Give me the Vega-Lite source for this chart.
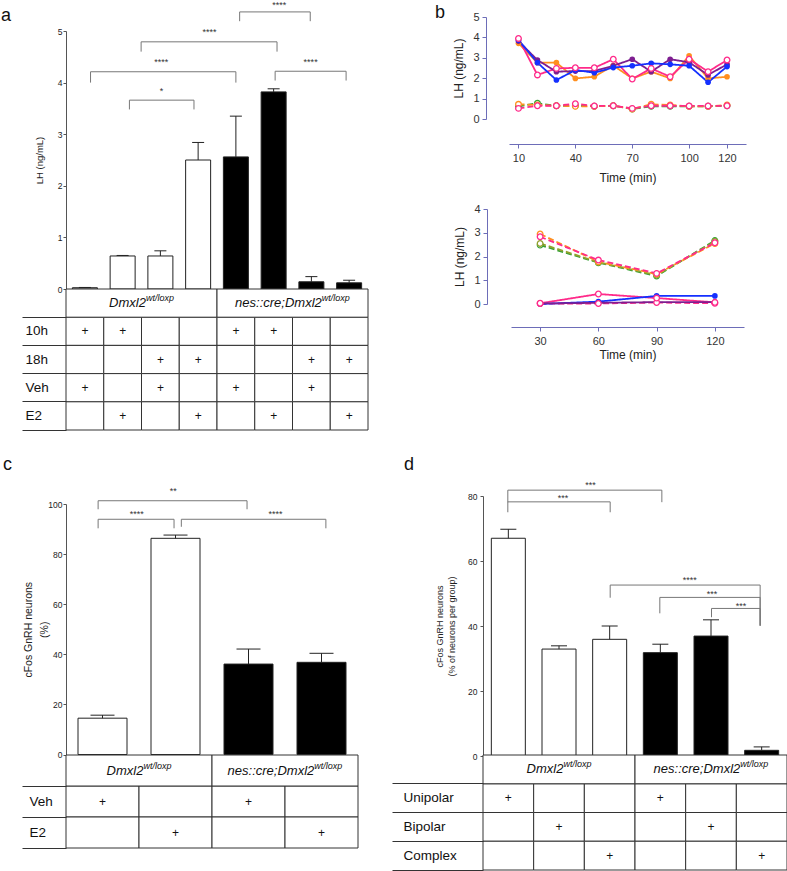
{
"$schema": "https://vega.github.io/schema/vega-lite/v6.json",
"background": "white",
"padding": {"left": 1, "top": 0, "right": 0, "bottom": 0},
"config": {
  "font": "Liberation Sans",
  "view": {"stroke": null},
  "axis": {"grid": false, "titleFontWeight": "normal", "domainColor": "#555", "tickColor": "#555", "labelColor": "#222", "titleColor": "#222", "labelOverlap": false}
},
"datasets": {
  "aBars": [
    {"pos": 1, "g": "wt", "v": 0.025, "e": 0.03},
    {"pos": 2, "g": "wt", "v": 0.64, "e": 0.65},
    {"pos": 3, "g": "wt", "v": 0.64, "e": 0.74},
    {"pos": 4, "g": "wt", "v": 2.5, "e": 2.84},
    {"pos": 5, "g": "cre", "v": 2.56, "e": 3.35},
    {"pos": 6, "g": "cre", "v": 3.82, "e": 3.88},
    {"pos": 7, "g": "cre", "v": 0.14, "e": 0.24},
    {"pos": 8, "g": "cre", "v": 0.12, "e": 0.17}
  ],
  "aBr": [
    {"xa": 2.18, "xb": 3.89, "y": 3.66, "b1": 3.48, "b2": 3.48, "xt": 3.03, "yt": 3.87, "lab": "*"},
    {"xa": 1.15, "xb": 5.0, "y": 4.21, "b1": 4.0, "b2": 4.0, "xt": 3.02, "yt": 4.44, "lab": "****"},
    {"xa": 2.49, "xb": 6.09, "y": 4.79, "b1": 4.6, "b2": 4.6, "xt": 4.3, "yt": 5.01, "lab": "****"},
    {"xa": 6.04, "xb": 7.92, "y": 4.22, "b1": 4.04, "b2": 4.04, "xt": 6.98, "yt": 4.44, "lab": "****"},
    {"xa": 5.1, "xb": 6.97, "y": 5.37, "b1": 5.19, "b2": 5.19, "xt": 6.15, "yt": 5.55, "lab": "****"}
  ],
  "aTab": [
    {"row": "10h", "col": 1, "v": "+"}, {"row": "10h", "col": 2, "v": "+"}, {"row": "10h", "col": 3, "v": ""}, {"row": "10h", "col": 4, "v": ""},
    {"row": "10h", "col": 5, "v": "+"}, {"row": "10h", "col": 6, "v": "+"}, {"row": "10h", "col": 7, "v": ""}, {"row": "10h", "col": 8, "v": ""},
    {"row": "18h", "col": 1, "v": ""}, {"row": "18h", "col": 2, "v": ""}, {"row": "18h", "col": 3, "v": "+"}, {"row": "18h", "col": 4, "v": "+"},
    {"row": "18h", "col": 5, "v": ""}, {"row": "18h", "col": 6, "v": ""}, {"row": "18h", "col": 7, "v": "+"}, {"row": "18h", "col": 8, "v": "+"},
    {"row": "Veh", "col": 1, "v": "+"}, {"row": "Veh", "col": 2, "v": ""}, {"row": "Veh", "col": 3, "v": "+"}, {"row": "Veh", "col": 4, "v": ""},
    {"row": "Veh", "col": 5, "v": "+"}, {"row": "Veh", "col": 6, "v": ""}, {"row": "Veh", "col": 7, "v": "+"}, {"row": "Veh", "col": 8, "v": ""},
    {"row": "E2", "col": 1, "v": ""}, {"row": "E2", "col": 2, "v": "+"}, {"row": "E2", "col": 3, "v": ""}, {"row": "E2", "col": 4, "v": "+"},
    {"row": "E2", "col": 5, "v": ""}, {"row": "E2", "col": 6, "v": "+"}, {"row": "E2", "col": 7, "v": ""}, {"row": "E2", "col": 8, "v": "+"}
  ],
  "gen": [
    {"geno": "wt", "row": "G", "main": "Dmxl2", "sup": "wt/loxp"},
    {"geno": "cre", "row": "G", "main": "nes::cre;Dmxl2", "sup": "wt/loxp"}
  ],
  "cBars": [
    {"pos": 1, "g": "wt", "v": 14.5, "e": 15.7},
    {"pos": 2, "g": "wt", "v": 86.3, "e": 87.6},
    {"pos": 3, "g": "cre", "v": 36.1, "e": 42.1},
    {"pos": 4, "g": "cre", "v": 36.8, "e": 40.4}
  ],
  "cBr": [
    {"xa": 0.94, "xb": 2.98, "y": 101.3, "b1": 97.9, "b2": 97.9, "xt": 1.97, "yt": 105.9, "lab": "**"},
    {"xa": 0.94, "xb": 1.98, "y": 93.9, "b1": 90.3, "b2": 90.3, "xt": 1.47, "yt": 96.8, "lab": "****"},
    {"xa": 2.08, "xb": 4.06, "y": 93.9, "b1": 90.9, "b2": 90.3, "xt": 3.37, "yt": 96.8, "lab": "****"}
  ],
  "cTab": [
    {"row": "Veh", "col": 1, "v": "+"}, {"row": "Veh", "col": 2, "v": ""}, {"row": "Veh", "col": 3, "v": "+"}, {"row": "Veh", "col": 4, "v": ""},
    {"row": "E2", "col": 1, "v": ""}, {"row": "E2", "col": 2, "v": "+"}, {"row": "E2", "col": 3, "v": ""}, {"row": "E2", "col": 4, "v": "+"}
  ],
  "dBars": [
    {"pos": 1, "g": "wt", "v": 67.0, "e": 69.8},
    {"pos": 2, "g": "wt", "v": 32.9, "e": 33.9},
    {"pos": 3, "g": "wt", "v": 35.9, "e": 40.0},
    {"pos": 4, "g": "cre", "v": 31.8, "e": 34.4},
    {"pos": 5, "g": "cre", "v": 36.9, "e": 41.9},
    {"pos": 6, "g": "cre", "v": 1.75, "e": 2.8}
  ],
  "dBr": [
    {"xa": 0.99, "xb": 4.03, "y": 81.8, "b1": 78.1, "b2": 78.1, "xt": 2.62, "yt": 84.0, "lab": "***"},
    {"xa": 0.99, "xb": 3.01, "y": 78.2, "b1": 75.0, "b2": 75.0, "xt": 2.08, "yt": 80.1, "lab": "***"},
    {"xa": 3.01, "xb": 5.97, "y": 52.6, "b1": 48.7, "b2": 40.1, "xt": 4.58, "yt": 54.9, "lab": "****"},
    {"xa": 3.99, "xb": 5.97, "y": 48.8, "b1": 43.9, "b2": 40.1, "xt": 5.02, "yt": 50.4, "lab": "***"},
    {"xa": 5.01, "xb": 5.97, "y": 45.4, "b1": 42.7, "b2": 40.1, "xt": 5.59, "yt": 46.8, "lab": "***"}
  ],
  "dTab": [
    {"row": "Unipolar", "col": 1, "v": "+"}, {"row": "Unipolar", "col": 2, "v": ""}, {"row": "Unipolar", "col": 3, "v": ""},
    {"row": "Unipolar", "col": 4, "v": "+"}, {"row": "Unipolar", "col": 5, "v": ""}, {"row": "Unipolar", "col": 6, "v": ""},
    {"row": "Bipolar", "col": 1, "v": ""}, {"row": "Bipolar", "col": 2, "v": "+"}, {"row": "Bipolar", "col": 3, "v": ""},
    {"row": "Bipolar", "col": 4, "v": ""}, {"row": "Bipolar", "col": 5, "v": "+"}, {"row": "Bipolar", "col": 6, "v": ""},
    {"row": "Complex", "col": 1, "v": ""}, {"row": "Complex", "col": 2, "v": ""}, {"row": "Complex", "col": 3, "v": "+"},
    {"row": "Complex", "col": 4, "v": ""}, {"row": "Complex", "col": 5, "v": ""}, {"row": "Complex", "col": 6, "v": "+"}
  ],
  "b1": [
    {"id": "o", "c": "orange", "d": "solid", "f": "filled", "t": 10, "v": 3.71}, {"id": "o", "c": "orange", "d": "solid", "f": "filled", "t": 20, "v": 2.76},
    {"id": "o", "c": "orange", "d": "solid", "f": "filled", "t": 30, "v": 2.76}, {"id": "o", "c": "orange", "d": "solid", "f": "filled", "t": 40, "v": 1.99},
    {"id": "o", "c": "orange", "d": "solid", "f": "filled", "t": 50, "v": 2.07}, {"id": "o", "c": "orange", "d": "solid", "f": "filled", "t": 60, "v": 2.62},
    {"id": "o", "c": "orange", "d": "solid", "f": "filled", "t": 70, "v": 1.99}, {"id": "o", "c": "orange", "d": "solid", "f": "filled", "t": 80, "v": 2.32},
    {"id": "o", "c": "orange", "d": "solid", "f": "filled", "t": 90, "v": 1.99}, {"id": "o", "c": "orange", "d": "solid", "f": "filled", "t": 100, "v": 3.1},
    {"id": "o", "c": "orange", "d": "solid", "f": "filled", "t": 110, "v": 1.99}, {"id": "o", "c": "orange", "d": "solid", "f": "filled", "t": 120, "v": 2.07},
    {"id": "k", "c": "pink", "d": "solid", "f": "open", "t": 10, "v": 3.95}, {"id": "k", "c": "pink", "d": "solid", "f": "open", "t": 20, "v": 2.16},
    {"id": "k", "c": "pink", "d": "solid", "f": "open", "t": 30, "v": 2.48}, {"id": "k", "c": "pink", "d": "solid", "f": "open", "t": 40, "v": 2.51},
    {"id": "k", "c": "pink", "d": "solid", "f": "open", "t": 50, "v": 2.51}, {"id": "k", "c": "pink", "d": "solid", "f": "open", "t": 60, "v": 2.93},
    {"id": "k", "c": "pink", "d": "solid", "f": "open", "t": 70, "v": 1.96}, {"id": "k", "c": "pink", "d": "solid", "f": "open", "t": 80, "v": 2.48},
    {"id": "k", "c": "pink", "d": "solid", "f": "open", "t": 90, "v": 2.07}, {"id": "k", "c": "pink", "d": "solid", "f": "open", "t": 100, "v": 2.93},
    {"id": "k", "c": "pink", "d": "solid", "f": "open", "t": 110, "v": 2.32}, {"id": "k", "c": "pink", "d": "solid", "f": "open", "t": 120, "v": 2.89},
    {"id": "p", "c": "purple", "d": "solid", "f": "filled", "t": 10, "v": 3.82}, {"id": "p", "c": "purple", "d": "solid", "f": "filled", "t": 20, "v": 2.89},
    {"id": "p", "c": "purple", "d": "solid", "f": "filled", "t": 30, "v": 2.32}, {"id": "p", "c": "purple", "d": "solid", "f": "filled", "t": 40, "v": 2.35},
    {"id": "p", "c": "purple", "d": "solid", "f": "filled", "t": 50, "v": 2.35}, {"id": "p", "c": "purple", "d": "solid", "f": "filled", "t": 60, "v": 2.61},
    {"id": "p", "c": "purple", "d": "solid", "f": "filled", "t": 70, "v": 2.93}, {"id": "p", "c": "purple", "d": "solid", "f": "filled", "t": 80, "v": 2.32},
    {"id": "p", "c": "purple", "d": "solid", "f": "filled", "t": 90, "v": 2.93}, {"id": "p", "c": "purple", "d": "solid", "f": "filled", "t": 100, "v": 2.78},
    {"id": "p", "c": "purple", "d": "solid", "f": "filled", "t": 110, "v": 2.16}, {"id": "p", "c": "purple", "d": "solid", "f": "filled", "t": 120, "v": 2.68},
    {"id": "b", "c": "blue", "d": "solid", "f": "filled", "t": 10, "v": 3.87}, {"id": "b", "c": "blue", "d": "solid", "f": "filled", "t": 20, "v": 2.76},
    {"id": "b", "c": "blue", "d": "solid", "f": "filled", "t": 30, "v": 1.91}, {"id": "b", "c": "blue", "d": "solid", "f": "filled", "t": 40, "v": 2.4},
    {"id": "b", "c": "blue", "d": "solid", "f": "filled", "t": 50, "v": 2.27}, {"id": "b", "c": "blue", "d": "solid", "f": "filled", "t": 60, "v": 2.52},
    {"id": "b", "c": "blue", "d": "solid", "f": "filled", "t": 70, "v": 2.61}, {"id": "b", "c": "blue", "d": "solid", "f": "filled", "t": 80, "v": 2.73},
    {"id": "b", "c": "blue", "d": "solid", "f": "filled", "t": 90, "v": 2.68}, {"id": "b", "c": "blue", "d": "solid", "f": "filled", "t": 100, "v": 2.61},
    {"id": "b", "c": "blue", "d": "solid", "f": "filled", "t": 110, "v": 1.8}, {"id": "b", "c": "blue", "d": "solid", "f": "filled", "t": 120, "v": 2.57},
    {"id": "gd", "c": "green", "d": "dashed", "f": "open", "t": 10, "v": 0.62}, {"id": "gd", "c": "green", "d": "dashed", "f": "open", "t": 20, "v": 0.77},
    {"id": "gd", "c": "green", "d": "dashed", "f": "open", "t": 30, "v": 0.65}, {"id": "gd", "c": "green", "d": "dashed", "f": "open", "t": 40, "v": 0.65},
    {"id": "gd", "c": "green", "d": "dashed", "f": "open", "t": 50, "v": 0.62}, {"id": "gd", "c": "green", "d": "dashed", "f": "open", "t": 60, "v": 0.65},
    {"id": "gd", "c": "green", "d": "dashed", "f": "open", "t": 70, "v": 0.49}, {"id": "gd", "c": "green", "d": "dashed", "f": "open", "t": 80, "v": 0.62},
    {"id": "gd", "c": "green", "d": "dashed", "f": "open", "t": 90, "v": 0.62}, {"id": "gd", "c": "green", "d": "dashed", "f": "open", "t": 100, "v": 0.62},
    {"id": "gd", "c": "green", "d": "dashed", "f": "open", "t": 110, "v": 0.62}, {"id": "gd", "c": "green", "d": "dashed", "f": "open", "t": 120, "v": 0.65},
    {"id": "od", "c": "orange", "d": "dashed", "f": "open", "t": 10, "v": 0.72}, {"id": "od", "c": "orange", "d": "dashed", "f": "open", "t": 20, "v": 0.69},
    {"id": "od", "c": "orange", "d": "dashed", "f": "open", "t": 30, "v": 0.65}, {"id": "od", "c": "orange", "d": "dashed", "f": "open", "t": 40, "v": 0.62},
    {"id": "od", "c": "orange", "d": "dashed", "f": "open", "t": 50, "v": 0.62}, {"id": "od", "c": "orange", "d": "dashed", "f": "open", "t": 60, "v": 0.65},
    {"id": "od", "c": "orange", "d": "dashed", "f": "open", "t": 70, "v": 0.49}, {"id": "od", "c": "orange", "d": "dashed", "f": "open", "t": 80, "v": 0.72},
    {"id": "od", "c": "orange", "d": "dashed", "f": "open", "t": 90, "v": 0.69}, {"id": "od", "c": "orange", "d": "dashed", "f": "open", "t": 100, "v": 0.62},
    {"id": "od", "c": "orange", "d": "dashed", "f": "open", "t": 110, "v": 0.62}, {"id": "od", "c": "orange", "d": "dashed", "f": "open", "t": 120, "v": 0.69},
    {"id": "kd", "c": "pink", "d": "dashed", "f": "open", "t": 10, "v": 0.52}, {"id": "kd", "c": "pink", "d": "dashed", "f": "open", "t": 20, "v": 0.65},
    {"id": "kd", "c": "pink", "d": "dashed", "f": "open", "t": 30, "v": 0.65}, {"id": "kd", "c": "pink", "d": "dashed", "f": "open", "t": 40, "v": 0.75},
    {"id": "kd", "c": "pink", "d": "dashed", "f": "open", "t": 50, "v": 0.64}, {"id": "kd", "c": "pink", "d": "dashed", "f": "open", "t": 60, "v": 0.65},
    {"id": "kd", "c": "pink", "d": "dashed", "f": "open", "t": 70, "v": 0.52}, {"id": "kd", "c": "pink", "d": "dashed", "f": "open", "t": 80, "v": 0.65},
    {"id": "kd", "c": "pink", "d": "dashed", "f": "open", "t": 90, "v": 0.65}, {"id": "kd", "c": "pink", "d": "dashed", "f": "open", "t": 100, "v": 0.64},
    {"id": "kd", "c": "pink", "d": "dashed", "f": "open", "t": 110, "v": 0.64}, {"id": "kd", "c": "pink", "d": "dashed", "f": "open", "t": 120, "v": 0.65}
  ],
  "b2": [
    {"id": "gd", "c": "green", "d": "dashed", "f": "open", "t": 30, "v": 2.48}, {"id": "gd", "c": "green", "d": "dashed", "f": "open", "t": 60, "v": 1.74},
    {"id": "gd", "c": "green", "d": "dashed", "f": "open", "t": 90, "v": 1.18}, {"id": "gd", "c": "green", "d": "dashed", "f": "open", "t": 120, "v": 2.67},
    {"id": "ld", "c": "olive", "d": "dashed", "f": "open", "t": 30, "v": 2.55}, {"id": "ld", "c": "olive", "d": "dashed", "f": "open", "t": 60, "v": 1.76},
    {"id": "ld", "c": "olive", "d": "dashed", "f": "open", "t": 90, "v": 1.22}, {"id": "ld", "c": "olive", "d": "dashed", "f": "open", "t": 120, "v": 2.63},
    {"id": "od", "c": "orange", "d": "dashed", "f": "open", "t": 30, "v": 2.95}, {"id": "od", "c": "orange", "d": "dashed", "f": "open", "t": 60, "v": 1.78},
    {"id": "od", "c": "orange", "d": "dashed", "f": "open", "t": 90, "v": 1.26}, {"id": "od", "c": "orange", "d": "dashed", "f": "open", "t": 120, "v": 2.55},
    {"id": "kd", "c": "pink", "d": "dashed", "f": "open", "t": 30, "v": 2.83}, {"id": "kd", "c": "pink", "d": "dashed", "f": "open", "t": 60, "v": 1.85},
    {"id": "kd", "c": "pink", "d": "dashed", "f": "open", "t": 90, "v": 1.29}, {"id": "kd", "c": "pink", "d": "dashed", "f": "open", "t": 120, "v": 2.58},
    {"id": "kd2", "c": "pink", "d": "dashed", "f": "open", "t": 30, "v": 0.02}, {"id": "kd2", "c": "pink", "d": "dashed", "f": "open", "t": 60, "v": 0.02},
    {"id": "kd2", "c": "pink", "d": "dashed", "f": "open", "t": 90, "v": 0.06}, {"id": "kd2", "c": "pink", "d": "dashed", "f": "open", "t": 120, "v": 0.03},
    {"id": "k", "c": "pink", "d": "solid", "f": "open", "t": 30, "v": 0.03}, {"id": "k", "c": "pink", "d": "solid", "f": "open", "t": 60, "v": 0.42},
    {"id": "k", "c": "pink", "d": "solid", "f": "open", "t": 90, "v": 0.25}, {"id": "k", "c": "pink", "d": "solid", "f": "open", "t": 120, "v": 0.07},
    {"id": "b", "c": "blue", "d": "solid", "f": "filled", "t": 30, "v": 0.0}, {"id": "b", "c": "blue", "d": "solid", "f": "filled", "t": 60, "v": 0.1},
    {"id": "b", "c": "blue", "d": "solid", "f": "filled", "t": 90, "v": 0.34}, {"id": "b", "c": "blue", "d": "solid", "f": "filled", "t": 120, "v": 0.34},
    {"id": "p", "c": "purple", "d": "solid", "f": "filled", "t": 30, "v": 0.02}, {"id": "p", "c": "purple", "d": "solid", "f": "filled", "t": 60, "v": 0.05},
    {"id": "p", "c": "purple", "d": "solid", "f": "filled", "t": 90, "v": 0.08}, {"id": "p", "c": "purple", "d": "solid", "f": "filled", "t": 120, "v": 0.08}
  ]
},
"columns": 2,
"bounds": "flush",
"align": "each",
"spacing": {"row": 0, "column": 115},
"concat": [
  {
    "width": 302, "height": 289,
    "layer": [
      {"data": {"name": "aBars"}, "mark": {"type": "bar", "orient": "vertical", "width": 25, "stroke": "#222", "strokeWidth": 1},
       "encoding": {
         "x": {"field": "pos", "type": "quantitative", "scale": {"domain": [0.5, 8.5], "nice": false, "zero": false, "padding": 0}, "axis": null},
         "y": {"field": "v", "type": "quantitative", "scale": {"domain": [0, 5], "range": [289, 31], "nice": false, "zero": false},
               "axis": {"values": [0, 1, 2, 3, 4, 5], "tickCount": 20, "format": "d", "labelOverlap": false, "title": "LH (ng/mL)", "tickSize": 3, "labelPadding": 1, "labelFontSize": 8.5, "titleFontSize": 9.5, "titlePadding": 13}},
         "fill": {"field": "g", "type": "nominal", "scale": {"domain": ["wt", "cre"], "range": ["#ffffff", "#000000"]}, "legend": null}
       }},
      {"data": {"name": "aBars"}, "mark": {"type": "rule", "color": "#222", "strokeWidth": 1},
       "encoding": {"x": {"field": "pos", "type": "quantitative"}, "y": {"field": "v", "type": "quantitative"}, "y2": {"field": "e"}}},
      {"data": {"name": "aBars"}, "mark": {"type": "tick", "orient": "horizontal", "size": 12, "thickness": 1, "color": "#222", "opacity": 1},
       "encoding": {"x": {"field": "pos", "type": "quantitative"}, "y": {"field": "e", "type": "quantitative"}}},
      {"data": {"name": "aBr"}, "mark": {"type": "rule", "color": "#777", "strokeWidth": 1},
       "encoding": {"x": {"field": "xa", "type": "quantitative"}, "x2": {"field": "xb"}, "y": {"field": "y", "type": "quantitative"}}},
      {"data": {"name": "aBr"}, "mark": {"type": "rule", "color": "#777", "strokeWidth": 1},
       "encoding": {"x": {"field": "xa", "type": "quantitative"}, "y": {"field": "y", "type": "quantitative"}, "y2": {"field": "b1"}}},
      {"data": {"name": "aBr"}, "mark": {"type": "rule", "color": "#777", "strokeWidth": 1},
       "encoding": {"x": {"field": "xb", "type": "quantitative"}, "y": {"field": "y", "type": "quantitative"}, "y2": {"field": "b2"}}},
      {"data": {"name": "aBr"}, "mark": {"type": "text", "fontSize": 9, "baseline": "middle", "dy": 2, "color": "#333"},
       "encoding": {"x": {"field": "xt", "type": "quantitative"}, "y": {"field": "yt", "type": "quantitative"}, "text": {"field": "lab"}}},
      {"data": {"values": [{}]}, "mark": {"type": "text", "fontSize": 18, "align": "left", "baseline": "alphabetic", "color": "#111"},
       "encoding": {"x": {"datum": -1.22}, "y": {"datum": 5.2}, "text": {"value": "a"}}}
    ]
  },
  {
    "width": 263, "height": 144,
    "layer": [
      {"data": {"name": "b1"}, "mark": {"type": "line", "strokeWidth": 1.8},
       "encoding": {
         "x": {"field": "t", "type": "quantitative", "scale": {"domain": [5, 130], "range": [26, 263], "nice": false, "zero": false},
               "axis": {"values": [10, 40, 70, 100, 120], "tickCount": 20, "labelOverlap": false, "title": "Time (min)", "domainColor": "#6d6db8", "tickColor": "#6d6db8", "tickSize": 4, "labelFontSize": 11, "labelPadding": 4, "labelColor": "#333", "titleFontSize": 12, "titlePadding": 9}},
         "y": {"field": "v", "type": "quantitative", "scale": {"domain": [0, 5], "range": [119, 17], "nice": false, "zero": false},
               "axis": {"values": [0, 1, 2, 3, 4, 5], "tickCount": 20, "format": "d", "labelOverlap": false, "title": "LH (ng/mL)", "offset": -3, "domainColor": "#6d6db8", "tickColor": "#6d6db8", "tickSize": 4, "labelFontSize": 11, "labelPadding": 3, "labelColor": "#333", "titleFontSize": 12, "titlePadding": 7}},
         "color": {"field": "c", "type": "nominal", "scale": {"domain": ["orange", "blue", "purple", "pink", "green", "olive"], "range": ["#ff8f1f", "#1430ff", "#7e1e90", "#ff2a8a", "#36a136", "#93a02c"]}, "legend": null},
         "strokeDash": {"field": "d", "type": "nominal", "scale": {"domain": ["solid", "dashed"], "range": [[1, 0], [6, 3]]}, "legend": null},
         "detail": {"field": "id"}
       }},
      {"data": {"name": "b1"}, "transform": [{"filter": "datum.f == 'filled'"}], "mark": {"type": "point", "filled": true, "size": 32, "opacity": 1},
       "encoding": {"x": {"field": "t", "type": "quantitative"}, "y": {"field": "v", "type": "quantitative"}, "color": {"field": "c", "type": "nominal", "legend": null}}},
      {"data": {"name": "b1"}, "transform": [{"filter": "datum.f == 'open'"}], "mark": {"type": "point", "filled": false, "fill": "#ffffff", "size": 32, "strokeWidth": 1.3, "opacity": 1},
       "encoding": {"x": {"field": "t", "type": "quantitative"}, "y": {"field": "v", "type": "quantitative"}, "color": {"field": "c", "type": "nominal", "legend": null}}},
      {"data": {"values": [{}]}, "mark": {"type": "text", "fontSize": 18, "align": "left", "baseline": "alphabetic", "color": "#111"},
       "encoding": {"x": {"datum": -34}, "y": {"datum": 4.95}, "text": {"value": "b"}}}
    ]
  },
  {
    "width": 302, "height": 141,
    "resolve": {"scale": {"x": "independent"}},
    "encoding": {"y": {"field": "row", "type": "ordinal", "scale": {"domain": ["G", "10h", "18h", "Veh", "E2"], "paddingInner": 0, "paddingOuter": 0},
      "axis": {"title": null, "domain": false, "bandPosition": 1, "tickSize": 44, "tickColor": "#333", "labelAlign": "left", "labelBaseline": "middle", "labelPadding": -3, "labelFontSize": 13.5, "labelColor": "#111", "labelExpr": "datum.value == 'G' ? '' : datum.value"}}},
    "layer": [
      {"data": {"name": "aTab"}, "mark": {"type": "rect", "fill": "#ffffff", "stroke": "#333", "strokeWidth": 1},
       "encoding": {"x": {"field": "col", "type": "ordinal", "scale": {"paddingInner": 0, "paddingOuter": 0}, "axis": null}}},
      {"data": {"name": "aTab"}, "mark": {"type": "text", "fontSize": 12, "baseline": "middle", "color": "#111"},
       "encoding": {"x": {"field": "col", "type": "ordinal", "axis": null}, "text": {"field": "v"}}},
      {"data": {"name": "gen"}, "mark": {"type": "rect", "fill": "#ffffff", "stroke": "#333", "strokeWidth": 1},
       "encoding": {"x": {"field": "geno", "type": "nominal", "scale": {"domain": ["wt", "cre"], "paddingInner": 0, "paddingOuter": 0}, "axis": null}}},
      {"data": {"name": "gen"}, "transform": [{"filter": "datum.geno == 'wt'"}], "mark": {"type": "text", "fontSize": 13, "fontStyle": "italic", "align": "right", "baseline": "middle", "dx": 4.4, "color": "#111"},
       "encoding": {"x": {"field": "geno", "type": "nominal", "scale": {"type": "band", "domain": ["wt", "cre"], "paddingInner": 0, "paddingOuter": 0}, "axis": null}, "text": {"field": "main"}}},
      {"data": {"name": "gen"}, "transform": [{"filter": "datum.geno == 'wt'"}], "mark": {"type": "text", "fontSize": 9, "fontStyle": "italic", "align": "left", "baseline": "middle", "dx": 4.4, "dy": -5, "color": "#111"},
       "encoding": {"x": {"field": "geno", "type": "nominal", "scale": {"type": "band", "domain": ["wt", "cre"], "paddingInner": 0, "paddingOuter": 0}, "axis": null}, "text": {"field": "sup"}}},
      {"data": {"name": "gen"}, "transform": [{"filter": "datum.geno == 'cre'"}], "mark": {"type": "text", "fontSize": 13, "fontStyle": "italic", "align": "right", "baseline": "middle", "dx": 29.3, "color": "#111"},
       "encoding": {"x": {"field": "geno", "type": "nominal", "scale": {"type": "band", "domain": ["wt", "cre"], "paddingInner": 0, "paddingOuter": 0}, "axis": null}, "text": {"field": "main"}}},
      {"data": {"name": "gen"}, "transform": [{"filter": "datum.geno == 'cre'"}], "mark": {"type": "text", "fontSize": 9, "fontStyle": "italic", "align": "left", "baseline": "middle", "dx": 29.3, "dy": -5, "color": "#111"},
       "encoding": {"x": {"field": "geno", "type": "nominal", "scale": {"type": "band", "domain": ["wt", "cre"], "paddingInner": 0, "paddingOuter": 0}, "axis": null}, "text": {"field": "sup"}}}
    ]
  },
  {
    "width": 261, "height": 38,
    "layer": [
      {"data": {"name": "b2"}, "mark": {"type": "line", "strokeWidth": 1.8},
       "encoding": {
         "x": {"field": "t", "type": "quantitative", "scale": {"domain": [15, 135], "range": [28, 261], "nice": false, "zero": false},
               "axis": {"values": [30, 60, 90, 120], "tickCount": 20, "labelOverlap": false, "title": "Time (min)", "domainColor": "#6d6db8", "tickColor": "#6d6db8", "tickSize": 4, "labelFontSize": 11, "labelPadding": 4, "labelColor": "#333", "titleFontSize": 12, "titlePadding": 3}},
         "y": {"field": "v", "type": "quantitative", "scale": {"domain": [0, 4], "range": [15, -80], "nice": false, "zero": false},
               "axis": {"values": [0, 1, 2, 3, 4], "tickCount": 20, "format": "d", "labelOverlap": false, "title": "LH (ng/mL)", "offset": -4, "domainColor": "#6d6db8", "tickColor": "#6d6db8", "tickSize": 4, "labelFontSize": 11, "labelPadding": 3, "labelColor": "#333", "titleFontSize": 12, "titlePadding": 7}},
         "color": {"field": "c", "type": "nominal", "scale": {"domain": ["orange", "blue", "purple", "pink", "green", "olive"], "range": ["#ff8f1f", "#1430ff", "#7e1e90", "#ff2a8a", "#36a136", "#93a02c"]}, "legend": null},
         "strokeDash": {"field": "d", "type": "nominal", "scale": {"domain": ["solid", "dashed"], "range": [[1, 0], [6, 3]]}, "legend": null},
         "detail": {"field": "id"}
       }},
      {"data": {"name": "b2"}, "transform": [{"filter": "datum.f == 'filled'"}], "mark": {"type": "point", "filled": true, "size": 32, "opacity": 1},
       "encoding": {"x": {"field": "t", "type": "quantitative"}, "y": {"field": "v", "type": "quantitative"}, "color": {"field": "c", "type": "nominal", "legend": null}}},
      {"data": {"name": "b2"}, "transform": [{"filter": "datum.f == 'open'"}], "mark": {"type": "point", "filled": false, "fill": "#ffffff", "size": 32, "strokeWidth": 1.3, "opacity": 1},
       "encoding": {"x": {"field": "t", "type": "quantitative"}, "y": {"field": "v", "type": "quantitative"}, "color": {"field": "c", "type": "nominal", "legend": null}}}
    ]
  },
  {
    "width": 292, "height": 324.5,
    "layer": [
      {"data": {"name": "cBars"}, "mark": {"type": "bar", "orient": "vertical", "width": 49, "stroke": "#222", "strokeWidth": 1},
       "encoding": {
         "x": {"field": "pos", "type": "quantitative", "scale": {"domain": [0.5, 4.5], "nice": false, "zero": false, "padding": 0}, "axis": null},
         "y": {"field": "v", "type": "quantitative", "scale": {"domain": [0, 100], "range": [324.5, 74], "nice": false, "zero": false},
               "axis": {"values": [0, 20, 40, 60, 80, 100], "tickCount": 20, "format": "d", "labelOverlap": false, "title": ["cFos GnRH neurons", "(%)"], "tickSize": 3, "labelPadding": 1, "labelFontSize": 8.5, "titleFontSize": 10.5, "titleLineHeight": 16, "titlePadding": -2}},
         "fill": {"field": "g", "type": "nominal", "scale": {"domain": ["wt", "cre"], "range": ["#ffffff", "#000000"]}, "legend": null}
       }},
      {"data": {"name": "cBars"}, "mark": {"type": "rule", "color": "#222", "strokeWidth": 1},
       "encoding": {"x": {"field": "pos", "type": "quantitative"}, "y": {"field": "v", "type": "quantitative"}, "y2": {"field": "e"}}},
      {"data": {"name": "cBars"}, "mark": {"type": "tick", "orient": "horizontal", "size": 24, "thickness": 1, "color": "#222", "opacity": 1},
       "encoding": {"x": {"field": "pos", "type": "quantitative"}, "y": {"field": "e", "type": "quantitative"}}},
      {"data": {"name": "cBr"}, "mark": {"type": "rule", "color": "#777", "strokeWidth": 1},
       "encoding": {"x": {"field": "xa", "type": "quantitative"}, "x2": {"field": "xb"}, "y": {"field": "y", "type": "quantitative"}}},
      {"data": {"name": "cBr"}, "mark": {"type": "rule", "color": "#777", "strokeWidth": 1},
       "encoding": {"x": {"field": "xa", "type": "quantitative"}, "y": {"field": "y", "type": "quantitative"}, "y2": {"field": "b1"}}},
      {"data": {"name": "cBr"}, "mark": {"type": "rule", "color": "#777", "strokeWidth": 1},
       "encoding": {"x": {"field": "xb", "type": "quantitative"}, "y": {"field": "y", "type": "quantitative"}, "y2": {"field": "b2"}}},
      {"data": {"name": "cBr"}, "mark": {"type": "text", "fontSize": 9, "baseline": "middle", "dy": 2, "color": "#333"},
       "encoding": {"x": {"field": "xt", "type": "quantitative"}, "y": {"field": "yt", "type": "quantitative"}, "text": {"field": "lab"}}},
      {"data": {"values": [{}]}, "mark": {"type": "text", "fontSize": 18, "align": "left", "baseline": "alphabetic", "color": "#111"},
       "encoding": {"x": {"datum": -0.363}, "y": {"datum": 113.6}, "text": {"value": "c"}}}
    ]
  },
  {
    "width": 304, "height": 324.5,
    "layer": [
      {"data": {"name": "dBars"}, "mark": {"type": "bar", "orient": "vertical", "width": 34, "stroke": "#222", "strokeWidth": 1},
       "encoding": {
         "x": {"field": "pos", "type": "quantitative", "scale": {"domain": [0.5, 6.5], "nice": false, "zero": false, "padding": 0}, "axis": null},
         "y": {"field": "v", "type": "quantitative", "scale": {"domain": [0, 80], "range": [326, 66], "nice": false, "zero": false},
               "axis": {"values": [0, 20, 40, 60, 80], "tickCount": 20, "format": "d", "labelOverlap": false, "title": ["cFos GnRH neurons", "(% of neurons per group)"], "tickSize": 3, "labelPadding": 3, "labelFontSize": 8.5, "titleFontSize": 9, "titleLineHeight": 12, "titlePadding": 11}},
         "fill": {"field": "g", "type": "nominal", "scale": {"domain": ["wt", "cre"], "range": ["#ffffff", "#000000"]}, "legend": null}
       }},
      {"data": {"name": "dBars"}, "mark": {"type": "rule", "color": "#222", "strokeWidth": 1},
       "encoding": {"x": {"field": "pos", "type": "quantitative"}, "y": {"field": "v", "type": "quantitative"}, "y2": {"field": "e"}}},
      {"data": {"name": "dBars"}, "mark": {"type": "tick", "orient": "horizontal", "size": 16, "thickness": 1, "color": "#222", "opacity": 1},
       "encoding": {"x": {"field": "pos", "type": "quantitative"}, "y": {"field": "e", "type": "quantitative"}}},
      {"data": {"name": "dBr"}, "mark": {"type": "rule", "color": "#777", "strokeWidth": 1},
       "encoding": {"x": {"field": "xa", "type": "quantitative"}, "x2": {"field": "xb"}, "y": {"field": "y", "type": "quantitative"}}},
      {"data": {"name": "dBr"}, "mark": {"type": "rule", "color": "#777", "strokeWidth": 1},
       "encoding": {"x": {"field": "xa", "type": "quantitative"}, "y": {"field": "y", "type": "quantitative"}, "y2": {"field": "b1"}}},
      {"data": {"name": "dBr"}, "mark": {"type": "rule", "color": "#777", "strokeWidth": 1},
       "encoding": {"x": {"field": "xb", "type": "quantitative"}, "y": {"field": "y", "type": "quantitative"}, "y2": {"field": "b2"}}},
      {"data": {"name": "dBr"}, "mark": {"type": "text", "fontSize": 9, "baseline": "middle", "dy": 2, "color": "#333"},
       "encoding": {"x": {"field": "xt", "type": "quantitative"}, "y": {"field": "yt", "type": "quantitative"}, "text": {"field": "lab"}}},
      {"data": {"values": [{}]}, "mark": {"type": "text", "fontSize": 18, "align": "left", "baseline": "alphabetic", "color": "#111"},
       "encoding": {"x": {"datum": -1.06}, "y": {"datum": 88.0}, "text": {"value": "d"}}}
    ]
  },
  {
    "width": 292, "height": 93,
    "resolve": {"scale": {"x": "independent"}},
    "encoding": {"y": {"field": "row", "type": "ordinal", "scale": {"domain": ["G", "Veh", "E2"], "paddingInner": 0, "paddingOuter": 0},
      "axis": {"title": null, "domain": false, "bandPosition": 1, "tickSize": 44, "tickColor": "#333", "labelAlign": "left", "labelBaseline": "middle", "labelPadding": -7, "labelFontSize": 13.5, "labelColor": "#111", "labelExpr": "datum.value == 'G' ? '' : datum.value"}}},
    "layer": [
      {"data": {"name": "cTab"}, "mark": {"type": "rect", "fill": "#ffffff", "stroke": "#333", "strokeWidth": 1},
       "encoding": {"x": {"field": "col", "type": "ordinal", "scale": {"paddingInner": 0, "paddingOuter": 0}, "axis": null}}},
      {"data": {"name": "cTab"}, "mark": {"type": "text", "fontSize": 12, "baseline": "middle", "color": "#111"},
       "encoding": {"x": {"field": "col", "type": "ordinal", "axis": null}, "text": {"field": "v"}}},
      {"data": {"name": "gen"}, "mark": {"type": "rect", "fill": "#ffffff", "stroke": "#333", "strokeWidth": 1},
       "encoding": {"x": {"field": "geno", "type": "nominal", "scale": {"domain": ["wt", "cre"], "paddingInner": 0, "paddingOuter": 0}, "axis": null}}},
      {"data": {"name": "gen"}, "transform": [{"filter": "datum.geno == 'wt'"}], "mark": {"type": "text", "fontSize": 13, "fontStyle": "italic", "align": "right", "baseline": "middle", "dx": 4.4, "color": "#111"},
       "encoding": {"x": {"field": "geno", "type": "nominal", "scale": {"type": "band", "domain": ["wt", "cre"], "paddingInner": 0, "paddingOuter": 0}, "axis": null}, "text": {"field": "main"}}},
      {"data": {"name": "gen"}, "transform": [{"filter": "datum.geno == 'wt'"}], "mark": {"type": "text", "fontSize": 9, "fontStyle": "italic", "align": "left", "baseline": "middle", "dx": 4.4, "dy": -5, "color": "#111"},
       "encoding": {"x": {"field": "geno", "type": "nominal", "scale": {"type": "band", "domain": ["wt", "cre"], "paddingInner": 0, "paddingOuter": 0}, "axis": null}, "text": {"field": "sup"}}},
      {"data": {"name": "gen"}, "transform": [{"filter": "datum.geno == 'cre'"}], "mark": {"type": "text", "fontSize": 13, "fontStyle": "italic", "align": "right", "baseline": "middle", "dx": 29.3, "color": "#111"},
       "encoding": {"x": {"field": "geno", "type": "nominal", "scale": {"type": "band", "domain": ["wt", "cre"], "paddingInner": 0, "paddingOuter": 0}, "axis": null}, "text": {"field": "main"}}},
      {"data": {"name": "gen"}, "transform": [{"filter": "datum.geno == 'cre'"}], "mark": {"type": "text", "fontSize": 9, "fontStyle": "italic", "align": "left", "baseline": "middle", "dx": 29.3, "dy": -5, "color": "#111"},
       "encoding": {"x": {"field": "geno", "type": "nominal", "scale": {"type": "band", "domain": ["wt", "cre"], "paddingInner": 0, "paddingOuter": 0}, "axis": null}, "text": {"field": "sup"}}}
    ]
  },
  {
    "width": 304, "height": 115,
    "resolve": {"scale": {"x": "independent"}},
    "encoding": {"y": {"field": "row", "type": "ordinal", "scale": {"domain": ["G", "Unipolar", "Bipolar", "Complex"], "paddingInner": 0, "paddingOuter": 0},
      "axis": {"title": null, "domain": false, "bandPosition": 1, "tickSize": 91, "tickColor": "#333", "labelAlign": "left", "labelBaseline": "middle", "labelPadding": -11, "labelFontSize": 13.5, "labelColor": "#111", "labelExpr": "datum.value == 'G' ? '' : datum.value"}}},
    "layer": [
      {"data": {"name": "dTab"}, "mark": {"type": "rect", "fill": "#ffffff", "stroke": "#333", "strokeWidth": 1},
       "encoding": {"x": {"field": "col", "type": "ordinal", "scale": {"paddingInner": 0, "paddingOuter": 0}, "axis": null}}},
      {"data": {"name": "dTab"}, "mark": {"type": "text", "fontSize": 12, "baseline": "middle", "color": "#111"},
       "encoding": {"x": {"field": "col", "type": "ordinal", "axis": null}, "text": {"field": "v"}}},
      {"data": {"name": "gen"}, "mark": {"type": "rect", "fill": "#ffffff", "stroke": "#333", "strokeWidth": 1},
       "encoding": {"x": {"field": "geno", "type": "nominal", "scale": {"domain": ["wt", "cre"], "paddingInner": 0, "paddingOuter": 0}, "axis": null}}},
      {"data": {"name": "gen"}, "transform": [{"filter": "datum.geno == 'wt'"}], "mark": {"type": "text", "fontSize": 13, "fontStyle": "italic", "align": "right", "baseline": "middle", "dx": 4.4, "color": "#111"},
       "encoding": {"x": {"field": "geno", "type": "nominal", "scale": {"type": "band", "domain": ["wt", "cre"], "paddingInner": 0, "paddingOuter": 0}, "axis": null}, "text": {"field": "main"}}},
      {"data": {"name": "gen"}, "transform": [{"filter": "datum.geno == 'wt'"}], "mark": {"type": "text", "fontSize": 9, "fontStyle": "italic", "align": "left", "baseline": "middle", "dx": 4.4, "dy": -5, "color": "#111"},
       "encoding": {"x": {"field": "geno", "type": "nominal", "scale": {"type": "band", "domain": ["wt", "cre"], "paddingInner": 0, "paddingOuter": 0}, "axis": null}, "text": {"field": "sup"}}},
      {"data": {"name": "gen"}, "transform": [{"filter": "datum.geno == 'cre'"}], "mark": {"type": "text", "fontSize": 13, "fontStyle": "italic", "align": "right", "baseline": "middle", "dx": 29.3, "color": "#111"},
       "encoding": {"x": {"field": "geno", "type": "nominal", "scale": {"type": "band", "domain": ["wt", "cre"], "paddingInner": 0, "paddingOuter": 0}, "axis": null}, "text": {"field": "main"}}},
      {"data": {"name": "gen"}, "transform": [{"filter": "datum.geno == 'cre'"}], "mark": {"type": "text", "fontSize": 9, "fontStyle": "italic", "align": "left", "baseline": "middle", "dx": 29.3, "dy": -5, "color": "#111"},
       "encoding": {"x": {"field": "geno", "type": "nominal", "scale": {"type": "band", "domain": ["wt", "cre"], "paddingInner": 0, "paddingOuter": 0}, "axis": null}, "text": {"field": "sup"}}}
    ]
  }
]
}
